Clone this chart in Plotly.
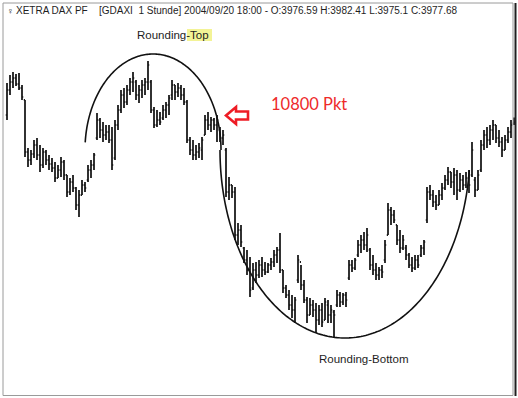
import numpy as np
import plotly.graph_objects as go

# ---------------- data (hourly DAX bars) ----------------
highs = [
    4017, 4025, 4028, 4026, 4027, 4015, 4000, 3952, 3950, 3960,
    3962, 3955, 3952, 3950, 3945, 3942, 3938, 3935, 3943, 3940,
    3925, 3922, 3925, 3913, 3910, 3920, 3918, 3935, 3940, 3947,
    3987, 3982, 3978, 3975, 3975, 3973, 3980, 3995, 4010, 4012,
    4015, 4022, 4028, 4020, 4015, 4020, 4022, 4039, 4020, 3993,
    3990, 3988, 3995, 3998, 4005, 4020, 4015, 4017, 4015, 4012,
    4000, 3963, 3960, 3955, 3957, 3963, 3985, 3988, 3983, 3982,
    3985, 3973, 3970, 3952, 3923, 3915, 3913, 3877, 3875, 3853,
    3850, 3843, 3837, 3838, 3840, 3843, 3838, 3837, 3842, 3850,
    3853, 3867, 3830, 3815, 3810, 3805, 3803, 3845, 3835, 3820,
    3803, 3802, 3800, 3797, 3795, 3797, 3802, 3800, 3795, 3790,
    3810, 3808, 3807, 3808, 3840, 3840, 3842, 3860, 3865, 3868,
    3872, 3852, 3845, 3837, 3833, 3835, 3860, 3897, 3893, 3890,
    3875, 3870, 3865, 3855, 3847, 3843, 3845, 3845, 3855, 3860,
    3913, 3915, 3910, 3905, 3910, 3917, 3925, 3933, 3928, 3932,
    3930, 3927, 3925, 3928, 3930, 3958, 3923, 3930, 3960, 3970,
    3973, 3975, 3980, 3975, 3970, 3963, 3965, 3973, 3980, 3982.41,
]
lows = [
    3980, 4005, 4012, 4014, 4010, 4000, 3943, 3933, 3935, 3942,
    3940, 3928, 3932, 3935, 3930, 3928, 3918, 3922, 3923, 3920,
    3903, 3905, 3908, 3890, 3883, 3905, 3908, 3918, 3922, 3930,
    3960, 3962, 3958, 3960, 3957, 3930, 3940, 3970, 3987, 3992,
    3995, 4005, 4008, 4000, 3997, 4002, 4005, 4010, 3987, 3972,
    3973, 3975, 3980, 3982, 3985, 4000, 4000, 4003, 4000, 3995,
    3957, 3945, 3940, 3940, 3942, 3940, 3965, 3970, 3968, 3970,
    3958, 3958, 3955, 3903, 3900, 3902, 3860, 3855, 3853, 3837,
    3825, 3803, 3810, 3817, 3822, 3823, 3825, 3827, 3830, 3833,
    3837, 3827, 3807, 3802, 3790, 3782, 3777, 3817, 3810, 3797,
    3777, 3785, 3783, 3767, 3775, 3773, 3780, 3777, 3777, 3763,
    3793, 3793, 3795, 3793, 3820, 3828, 3830, 3843, 3847, 3850,
    3848, 3830, 3825, 3820, 3820, 3822, 3837, 3865, 3875, 3877,
    3855, 3847, 3850, 3840, 3832, 3828, 3830, 3832, 3843, 3845,
    3877, 3900, 3893, 3890, 3895, 3900, 3910, 3915, 3912, 3905,
    3900, 3908, 3910, 3912, 3907, 3923, 3903, 3910, 3928, 3950,
    3952, 3955, 3960, 3957, 3953, 3943, 3950, 3957, 3962, 3975.1,
]
opens = [
    3985, 4010, 4018, 4022, 4016, 4012, 4000, 3948, 3940, 3946,
    3955, 3945, 3935, 3948, 3940, 3936, 3932, 3922, 3930, 3938,
    3925, 3908, 3918, 3912, 3895, 3905, 3915, 3920, 3930, 3935,
    3962, 3980, 3970, 3965, 3968, 3960, 3942, 3975, 3990, 4005,
    3998, 4010, 4018, 4018, 4005, 4010, 4015, 4018, 4018, 3990,
    3975, 3980, 3982, 3990, 3995, 4005, 4015, 4008, 4012, 4005,
    3998, 3960, 3950, 3945, 3948, 3950, 3965, 3980, 3975, 3980,
    3975, 3970, 3962, 3950, 3908, 3915, 3908, 3865, 3870, 3852,
    3840, 3830, 3812, 3830, 3825, 3835, 3830, 3828, 3835, 3838,
    3845, 3850, 3830, 3812, 3805, 3795, 3790, 3820, 3838, 3815,
    3800, 3785, 3795, 3790, 3780, 3790, 3780, 3795, 3785, 3788,
    3795, 3805, 3798, 3805, 3822, 3835, 3832, 3845, 3855, 3860,
    3855, 3850, 3835, 3830, 3825, 3830, 3840, 3865, 3890, 3885,
    3875, 3860, 3852, 3852, 3845, 3835, 3832, 3840, 3845, 3852,
    3880, 3908, 3905, 3898, 3895, 3905, 3912, 3920, 3928, 3918,
    3925, 3910, 3920, 3915, 3922, 3925, 3920, 3910, 3930, 3955,
    3965, 3960, 3970, 3975, 3962, 3958, 3950, 3960, 3968, 3976.59,
]
closes = [
    4010, 4018, 4022, 4016, 4012, 4003, 3948, 3940, 3946, 3955,
    3945, 3935, 3948, 3940, 3936, 3932, 3922, 3930, 3938, 3925,
    3908, 3918, 3912, 3895, 3905, 3915, 3912, 3930, 3935, 3945,
    3980, 3970, 3965, 3968, 3960, 3935, 3975, 3990, 4005, 3998,
    4010, 4018, 4022, 4005, 4010, 4015, 4018, 4035, 3990, 3975,
    3980, 3978, 3990, 3995, 4002, 4015, 4008, 4012, 4005, 3998,
    3960, 3950, 3945, 3948, 3952, 3960, 3980, 3975, 3980, 3975,
    3980, 3962, 3965, 3908, 3915, 3908, 3865, 3870, 3858, 3840,
    3830, 3810, 3830, 3825, 3835, 3830, 3828, 3835, 3838, 3845,
    3850, 3830, 3812, 3805, 3795, 3790, 3800, 3840, 3815, 3800,
    3785, 3795, 3790, 3780, 3790, 3778, 3798, 3785, 3790, 3785,
    3805, 3798, 3805, 3800, 3835, 3832, 3840, 3855, 3860, 3855,
    3865, 3835, 3830, 3825, 3830, 3828, 3855, 3890, 3885, 3880,
    3860, 3852, 3860, 3845, 3835, 3832, 3840, 3835, 3852, 3858,
    3908, 3905, 3898, 3895, 3905, 3912, 3920, 3928, 3918, 3925,
    3910, 3920, 3915, 3922, 3915, 3950, 3910, 3925, 3955, 3965,
    3960, 3970, 3975, 3962, 3958, 3950, 3960, 3968, 3975, 3977.68,
]
bar_index = list(range(len(closes)))

header_symbol = "XETRA DAX PF"
header_info = "[GDAXI  1 Stunde] 2004/09/20 18:00 - O:3976.59 H:3982.41 L:3975.1 C:3977.68"
label_top = "Rounding-Top"
label_bottom = "Rounding-Bottom"
label_points = "10800 Pkt"

# ---------------- figure ----------------
W, H = 518, 398
FONT = "Liberation Sans, Arial, sans-serif"


def P(x, y):
    """pixel position -> paper coordinates (plot area fills the figure)"""
    return x / W, 1 - y / H


def arc_path(cx, cy, a, b, t0, t1, n=160):
    ts = np.linspace(t0, t1, n)
    pts = [P(cx + a * np.cos(t), cy - b * np.sin(t)) for t in ts]
    return "M " + " L ".join(f"{x:.5f},{y:.5f}" for x, y in pts)


def poly_path(points):
    pts = [P(x, y) for x, y in points]
    return "M " + " L ".join(f"{x:.5f},{y:.5f}" for x, y in pts) + " Z"


fig = go.Figure(
    go.Ohlc(
        x=bar_index, open=opens, high=highs, low=lows, close=closes,
        increasing=dict(line=dict(color="#1c1c1c", width=1.8)),
        decreasing=dict(line=dict(color="#1c1c1c", width=1.8)),
        tickwidth=0.4, hoverinfo="skip",
    )
)

shapes = [
    # yellow highlight behind "Top"
    dict(type="rect", xref="paper", yref="paper", layer="below",
         x0=P(187, 0)[0], x1=P(212, 0)[0], y0=P(0, 41)[1], y1=P(0, 29)[1],
         line=dict(width=0), fillcolor="#f3f396"),
    # frame
    dict(type="rect", xref="paper", yref="paper",
         x0=P(3, 0)[0], x1=P(513, 0)[0], y0=P(0, 395.5)[1], y1=P(0, 3)[1],
         line=dict(color="#9a9a9a", width=1)),
    dict(type="line", xref="paper", yref="paper",
         x0=P(515.5, 0)[0], x1=P(515.5, 0)[0], y0=P(0, 396)[1], y1=P(0, 3)[1],
         line=dict(color="#202020", width=2)),
    # rounding top arc
    dict(type="path", xref="paper", yref="paper",
         path=arc_path(153, 150, 68, 96, np.pi - 0.08, 0.0),
         line=dict(color="#111111", width=1.6)),
    # rounding bottom arc
    dict(type="path", xref="paper", yref="paper",
         path=arc_path(345, 150, 125, 188, np.pi, 2 * np.pi - 0.107),
         line=dict(color="#111111", width=1.6)),
    # red arrow
    dict(type="path", xref="paper", yref="paper",
         path=poly_path([(226, 115.5), (236, 107), (236, 111.5), (248, 111.5),
                         (248, 119.5), (236, 119.5), (236, 124)]),
         line=dict(color="#ee1c25", width=2.6), fillcolor="white"),
]

annotations = []


def add_text(text, x, y, size, color="#1e1e1e", xanchor="left", family=FONT, **kw):
    px, py = P(x, y)
    annotations.append(dict(
        text=text, x=px, y=py, xref="paper", yref="paper", showarrow=False,
        xanchor=xanchor, yanchor="middle", font=dict(family=family, size=size, color=color),
        borderpad=0, **kw))


add_text("♀", 5.5, 11, 9)
add_text(header_symbol, 15, 11, 10)
add_text(header_info, 98, 11, 10)
add_text(label_top, 136, 35, 11.5)
add_text(label_bottom, 318, 359, 11.5)
add_text(label_points, 270, 104, 16.5, color="#ee2a2a", family="Lato, Noto Sans, sans-serif")

fig.update_layout(
    width=W, height=H,
    margin=dict(l=0, r=0, t=0, b=0),
    paper_bgcolor="white", plot_bgcolor="white",
    showlegend=False,
    xaxis=dict(range=[-7 / 3, 511 / 3], visible=False, rangeslider=dict(visible=False), fixedrange=True),
    yaxis=dict(range=[4100 - H, 4100], visible=False, fixedrange=True),
    shapes=shapes, annotations=annotations,
)

fig.write_html("out.html", config={"displayModeBar": False},
               post_script="document.body.style.margin='0';")
